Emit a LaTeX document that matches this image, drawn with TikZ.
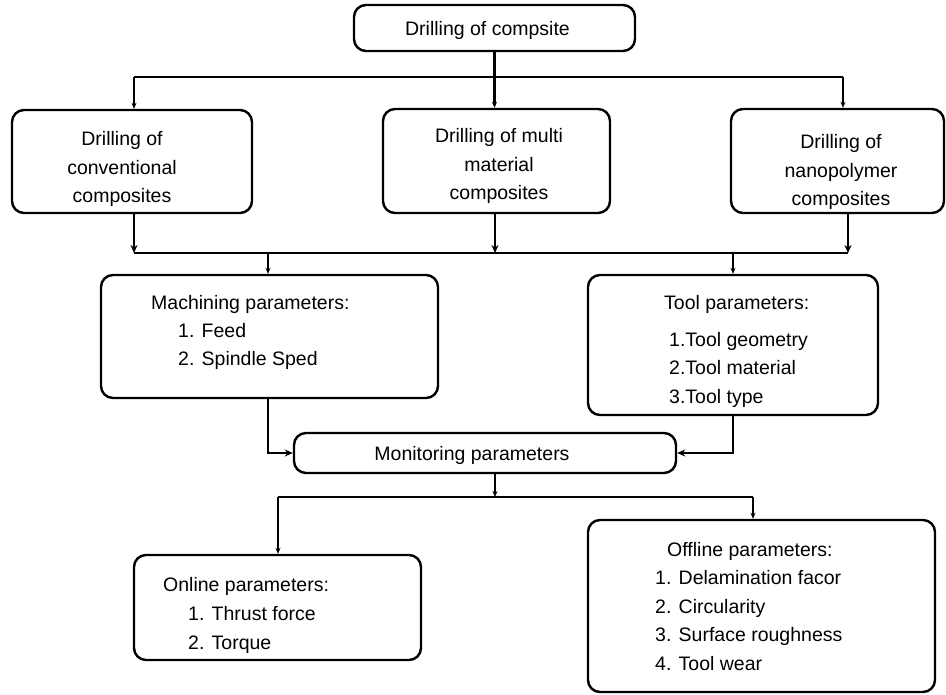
\documentclass[tikz,border=0pt]{standalone}
\usepackage{fontspec}
\setmainfont{Liberation Sans}
\usetikzlibrary{arrows.meta}
\begin{document}
\begin{tikzpicture}[x=1pt,y=-1pt,
  box/.style={draw=black,line width=2.4pt,rounded corners=12pt,inner sep=0pt},
  txt/.style={inner sep=0pt,font=\fontsize{19.5}{28.5}\selectfont},
  ctxt/.style={txt,align=center,anchor=base},
  ltxt/.style={txt,align=left,anchor=base west},
  line/.style={draw=black,line width=2.4pt},
  arr/.style={line,-{Stealth[length=8pt,width=7pt]}},
  sarr/.style={line,-{Stealth[length=6pt,width=5pt]}}]
\useasboundingbox (0,0) rectangle (946,695);
% boxes
\node[box,minimum width=281pt,minimum height=46pt] (top) at (494.5,28) {};
\node[box,minimum width=240pt,minimum height=103pt] (L) at (132,161.5) {};
\node[box,minimum width=227pt,minimum height=104pt] (M) at (496.5,161) {};
\node[box,minimum width=213pt,minimum height=104pt] (R) at (837.5,161) {};
\node[box,minimum width=337pt,minimum height=123pt] (Mach) at (269.5,336.5) {};
\node[box,minimum width=290pt,minimum height=140pt] (Tool) at (733,345) {};
\node[box,minimum width=382pt,minimum height=40pt] (Mon) at (485,453) {};
\node[box,minimum width=287pt,minimum height=105pt] (On) at (277.5,607.5) {};
\node[box,minimum width=347pt,minimum height=172pt] (Off) at (761.5,606) {};
% texts (anchor = baseline of the last line)
\node[ctxt] (tTop) at (487.5,36) {Drilling of compsite};
\node[ctxt] (tL) at (122,203) {Drilling of\\conventional\\composites};
\node[ctxt] (tM) at (499,200) {Drilling of multi\\material\\composites};
\node[ctxt] (tR) at (841,206) {Drilling of\\nanopolymer\\composites};
\node[ltxt] (tMach) at (151,309) {Machining parameters:};
\node[ltxt] (tMachI) at (178,366) {1. Feed\\2. Spindle Sped};
\node[ltxt] (tTool) at (664,309) {Tool parameters:};
\node[ltxt] (tToolI) at (669,403) {1.Tool geometry\\2.Tool material\\3.Tool type};
\node[ctxt] (tMon) at (472,460) {Monitoring parameters};
\node[ltxt] (tOn) at (163,591) {Online parameters:};
\node[ltxt] (tOnI) at (188,649) {1. Thrust force\\2. Torque};
\node[ltxt] (tOff) at (667,556) {Offline parameters:};
\node[ltxt] (tOffI) at (655,670) {1. Delamination facor\\2. Circularity\\3. Surface roughness\\4. Tool wear};
% bus coordinates
\coordinate (a1) at (134,77);
\coordinate (a2) at (843,77);
\coordinate (b1) at (134,253);
\coordinate (b2) at (495,253);
\coordinate (b3) at (848,253);
\coordinate (bm) at (268,253);
\coordinate (bt) at (733,253);
\coordinate (c0) at (495,497);
\coordinate (c1) at (278,497);
\coordinate (c2) at (753,497);
% connectors
\draw[line] (a1) -- (a2);
\draw[sarr] (top.south) -- (top.south |- M.north);
\draw[sarr] (a1) -- (a1 |- L.north);
\draw[sarr] (a2) -- (a2 |- R.north);
\draw[arr] (b1 |- L.south) -- (b1);
\draw[arr] (b2 |- M.south) -- (b2);
\draw[arr] (b3 |- R.south) -- (b3);
\draw[line] (b1) -- (b3);
\draw[sarr] (bm) -- (bm |- Mach.north);
\draw[sarr] (bt) -- (bt |- Tool.north);
\draw[arr] (bm |- Mach.south) |- (Mon.west);
\draw[arr] (bt |- Tool.south) |- (Mon.east);
\draw[sarr] (c0 |- Mon.south) -- (c0);
\draw[line] (c1) -- (c2);
\draw[sarr] (c1) -- (c1 |- On.north);
\draw[sarr] (c2) -- (c2 |- Off.north);
\end{tikzpicture}
\end{document}
